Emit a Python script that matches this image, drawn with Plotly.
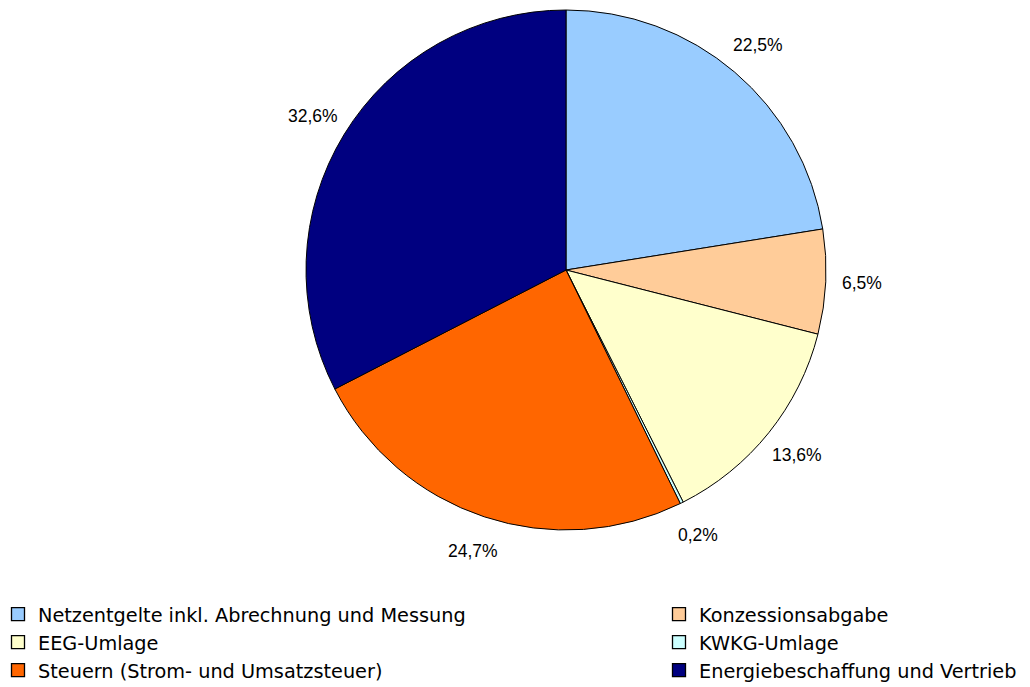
import math
import plotly.graph_objects as go

labels = ["Netzentgelte inkl. Abrechnung und Messung", "Konzessionsabgabe", "EEG-Umlage",
          "KWKG-Umlage", "Steuern (Strom- und Umsatzsteuer)", "Energiebeschaffung und Vertrieb"]
values = [22.5, 6.5, 13.6, 0.2, 24.7, 32.6]
value_text = ["22,5%", "6,5%", "13,6%", "0,2%", "24,7%", "32,6%"]
colors = ["#99CCFF", "#FFCC99", "#FFFFCC", "#CCFFFF", "#FF6600", "#000080"]
legend_column = ["legend", "legend2", "legend", "legend2", "legend", "legend2"]

W, H = 1030, 687
cx, cy, R = 566, 270, 260
label_r = R + 36

fig = go.Figure()
fig.add_trace(go.Pie(
    labels=labels, values=values, sort=False, direction="clockwise", rotation=0,
    marker=dict(colors=colors, line=dict(color="black", width=1)),
    textinfo="none", hoverinfo="label+percent", showlegend=False,
    domain=dict(x=[(cx - R) / W, (cx + R) / W], y=[1 - (cy + R) / H, 1 - (cy - R) / H]),
))

# legend entries (two columns)
for name, col, lg in zip(labels, colors, legend_column):
    fig.add_trace(go.Scatter(
        x=[None], y=[None], mode="markers", name=name, legend=lg,
        marker=dict(symbol="square", size=13, color=col, line=dict(color="black", width=1.3)),
        hoverinfo="skip",
    ))

total = sum(values)
cum = 0.0
for v, t in zip(values, value_text):
    mid = (cum + v / 2) / total * 2 * math.pi
    cum += v
    px = cx + label_r * math.sin(mid)
    py = cy - label_r * math.cos(mid)
    fig.add_annotation(x=px / W, y=1 - py / H, xref="paper", yref="paper", text=t,
                       showarrow=False, font=dict(family="Arial", size=17.5, color="black"),
                       xanchor="center", yanchor="middle")

legend_font = dict(family="DejaVu Sans", size=19.3, color="black")
fig.update_layout(
    width=W, height=H, margin=dict(l=0, r=0, t=0, b=0, autoexpand=False),
    paper_bgcolor="white", plot_bgcolor="white",
    font=dict(family="Arial", color="black"),
    xaxis=dict(visible=False), yaxis=dict(visible=False),
    legend=dict(orientation="v", x=-2 / W, y=-3 / H, xanchor="left", yanchor="bottom",
                font=legend_font, traceorder="normal", bgcolor="rgba(0,0,0,0)"),
    legend2=dict(orientation="v", x=659 / W, y=-3 / H, xanchor="left", yanchor="bottom",
                 font=legend_font, traceorder="normal", bgcolor="rgba(0,0,0,0)"),
)
fig.write_html("out.html")
